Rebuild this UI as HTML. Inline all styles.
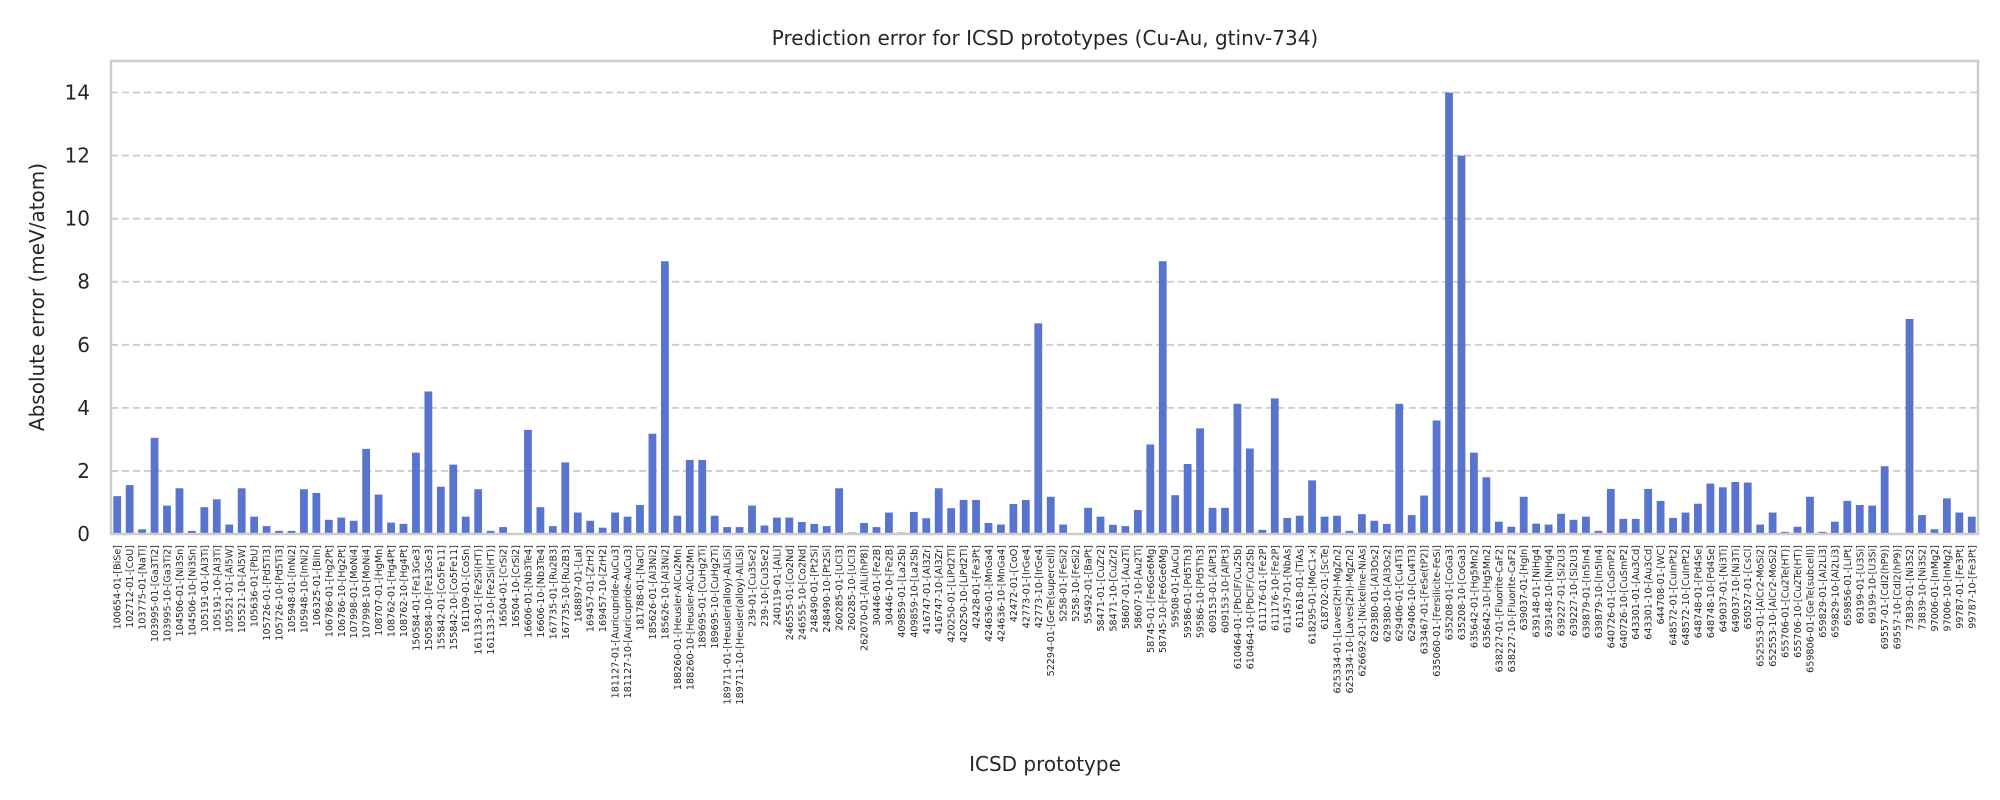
<!DOCTYPE html>
<html><head><meta charset="utf-8"><style>
html,body{margin:0;padding:0;background:#fff;}
svg{display:block;font-family:"DejaVu Sans","Liberation Sans",sans-serif;}
</style></head><body>
<svg id="chart" width="2000" height="800" viewBox="0 0 2000 800" xmlns="http://www.w3.org/2000/svg">
<rect x="0" y="0" width="2000" height="800" fill="#fff"/>
<text x="1045" y="45" text-anchor="middle" font-size="20" fill="#262626">Prediction error for ICSD prototypes (Cu-Au, gtinv-734)</text>
<g id="grid"></g>
<g id="bars"></g>
<rect x="111" y="61" width="1867" height="473" fill="none" stroke="#cccccc" stroke-width="2.5"/>
<g id="yticks"></g>
<g id="xticks"></g>
<text transform="translate(44,297) rotate(-90)" text-anchor="middle" font-size="20" fill="#262626">Absolute error (meV/atom)</text>
<text x="1045" y="771" text-anchor="middle" font-size="20" fill="#262626">ICSD prototype</text>
</svg>
<script>
const categories = ["100654-01-[BiSe]","102712-01-[CoU]","103775-01-[NaTl]","103995-01-[Ga3Ti2]","103995-10-[Ga3Ti2]","104506-01-[Ni3Sn]","104506-10-[Ni3Sn]","105191-01-[Al3Ti]","105191-10-[Al3Ti]","105521-01-[Al5W]","105521-10-[Al5W]","105636-01-[PbU]","105726-01-[Pd5Ti3]","105726-10-[Pd5Ti3]","105948-01-[InNi2]","105948-10-[InNi2]","106325-01-[BiIn]","106786-01-[Hg2Pt]","106786-10-[Hg2Pt]","107998-01-[MoNi4]","107998-10-[MoNi4]","108707-01-[HgMn]","108762-01-[Hg4Pt]","108762-10-[Hg4Pt]","150584-01-[Fe13Ge3]","150584-10-[Fe13Ge3]","155842-01-[Co5Fe11]","155842-10-[Co5Fe11]","161109-01-[CoSn]","161133-01-[Fe2Si(HT)]","161133-10-[Fe2Si(HT)]","16504-01-[CrSi2]","16504-10-[CrSi2]","16606-01-[Nb3Te4]","16606-10-[Nb3Te4]","167735-01-[Ru2B3]","167735-10-[Ru2B3]","168897-01-[LaI]","169457-01-[ZrH2]","169457-10-[ZrH2]","181127-01-[Auricupride-AuCu3]","181127-10-[Auricupride-AuCu3]","181788-01-[NaCl]","185626-01-[Al3Ni2]","185626-10-[Al3Ni2]","188260-01-[Heusler-AlCu2Mn]","188260-10-[Heusler-AlCu2Mn]","189695-01-[CuHg2Ti]","189695-10-[CuHg2Ti]","189711-01-[Heusler(alloy)-AlLiSi]","189711-10-[Heusler(alloy)-AlLiSi]","239-01-[Cu3Se2]","239-10-[Cu3Se2]","240119-01-[AlLi]","246555-01-[Co2Nd]","246555-10-[Co2Nd]","248490-01-[Pt2Si]","248490-10-[Pt2Si]","260285-01-[UCl3]","260285-10-[UCl3]","262070-01-[AlLi(hP8)]","30446-01-[Fe2B]","30446-10-[Fe2B]","409859-01-[La2Sb]","409859-10-[La2Sb]","416747-01-[Al3Zr]","416747-10-[Al3Zr]","420250-01-[LiPd2Tl]","420250-10-[LiPd2Tl]","42428-01-[Fe3Pt]","424636-01-[MnGa4]","424636-10-[MnGa4]","42472-01-[CoO]","42773-01-[IrGe4]","42773-10-[IrGe4]","52294-01-[GeTe(supercell)]","5258-01-[FeSi2]","5258-10-[FeSi2]","55492-01-[BaPt]","58471-01-[CuZr2]","58471-10-[CuZr2]","58607-01-[Au2Ti]","58607-10-[Au2Ti]","58745-01-[Fe6Ge6Mg]","58745-10-[Fe6Ge6Mg]","59508-01-[AuCu]","59586-01-[Pd5Th3]","59586-10-[Pd5Th3]","609153-01-[AlPt3]","609153-10-[AlPt3]","610464-01-[PbClF/Cu2Sb]","610464-10-[PbClF/Cu2Sb]","611176-01-[Fe2P]","611176-10-[Fe2P]","611457-01-[NbAs]","611618-01-[TiAs]","618295-01-[MoC1-x]","618702-01-[ScTe]","625334-01-[Laves(2H)-MgZn2]","625334-10-[Laves(2H)-MgZn2]","626692-01-[Nickeline-NiAs]","629380-01-[Al3Os2]","629380-10-[Al3Os2]","629406-01-[Cu4Ti3]","629406-10-[Cu4Ti3]","633467-01-[FeSe(tP2)]","635060-01-[Fersilicite-FeSi]","635208-01-[CoGa3]","635208-10-[CoGa3]","635642-01-[Hg5Mn2]","635642-10-[Hg5Mn2]","638227-01-[Fluorite-CaF2]","638227-10-[Fluorite-CaF2]","639037-01-[HgIn]","639148-01-[NiHg4]","639148-10-[NiHg4]","639227-01-[Si2U3]","639227-10-[Si2U3]","639879-01-[In5In4]","639879-10-[In5In4]","640726-01-[CuSmP2]","640726-10-[CuSmP2]","643301-01-[Au3Cd]","643301-10-[Au3Cd]","644708-01-[WC]","648572-01-[CuInPt2]","648572-10-[CuInPt2]","648748-01-[Pd4Se]","648748-10-[Pd4Se]","649037-01-[Ni3Ti]","649037-10-[Ni3Ti]","650527-01-[CsCl]","652553-01-[AlCr2-MoSi2]","652553-10-[AlCr2-MoSi2]","655706-01-[Cu2Te(HT)]","655706-10-[Cu2Te(HT)]","659806-01-[GeTe(subcell)]","659829-01-[Al2Li3]","659829-10-[Al2Li3]","659856-01-[LiPt]","69199-01-[U3Si]","69199-10-[U3Si]","69557-01-[CdI2(hP9)]","69557-10-[CdI2(hP9)]","73839-01-[Ni3S2]","73839-10-[Ni3S2]","97006-01-[InMg2]","97006-10-[InMg2]","99787-01-[Fe3Pt]","99787-10-[Fe3Pt]"];
const errors = [1.2,1.55,0.15,3.05,0.9,1.45,0.1,0.85,1.1,0.3,1.45,0.55,0.25,0.1,0.1,1.42,1.3,0.45,0.52,0.42,2.7,1.25,0.36,0.32,2.58,4.52,1.5,2.2,0.55,1.42,0.1,0.22,0.0,3.3,0.85,0.25,2.27,0.68,0.42,0.2,0.68,0.55,0.92,3.18,8.65,0.58,2.35,2.35,0.58,0.22,0.22,0.9,0.27,0.52,0.52,0.38,0.32,0.25,1.45,0.05,0.35,0.22,0.68,0.05,0.7,0.5,1.45,0.82,1.08,1.08,0.35,0.3,0.95,1.08,6.68,1.18,0.3,0.0,0.83,0.55,0.29,0.25,0.76,2.84,8.65,1.23,2.22,3.35,0.83,0.83,4.13,2.71,0.13,4.3,0.51,0.58,1.7,0.55,0.58,0.1,0.63,0.42,0.32,4.13,0.6,1.22,3.6,14.0,12.0,2.58,1.8,0.39,0.23,1.18,0.33,0.3,0.64,0.45,0.55,0.1,1.43,0.48,0.48,1.43,1.05,0.51,0.68,0.96,1.6,1.48,1.65,1.63,0.3,0.68,0.07,0.23,1.18,0.07,0.39,1.05,0.92,0.9,2.15,0.0,6.82,0.6,0.15,1.13,0.68,0.55];
const yTicks = [0,2,4,6,8,10,12,14];
const yMax = 15;

const NS = "http://www.w3.org/2000/svg";
const X0 = 111, X1 = 1978, Y0 = 534, Y1 = 61;
const step = (X1 - X0) / categories.length;
function xScale(i){ return X0 + step * (i + 0.5); }
function yScale(v){ return Y0 - (v / yMax) * (Y0 - Y1); }
function mk(tag, attrs){ const e = document.createElementNS(NS, tag); for (const k in attrs) e.setAttribute(k, attrs[k]); return e; }

const grid = document.getElementById('grid');
const yt = document.getElementById('yticks');
yTicks.forEach(t => {
  const y = yScale(t);
  const ln = mk('line', {x1: X0, x2: X1, y1: y, y2: y, stroke: '#cccccc', 'stroke-width': 1.8, 'stroke-dasharray': '7,4'});
  
  
  grid.appendChild(ln);
  const tx = mk('text', {x: 90, y: y + 7, 'text-anchor': 'end', 'font-size': 20, fill: '#262626'});
  tx.textContent = t;
  
  
  yt.appendChild(tx);
});

const bars = document.getElementById('bars');
const xt = document.getElementById('xticks');
const bw = 7.8;
categories.forEach((c, i) => {
  const v = errors[i];
  const cx = xScale(i);
  const r = mk('rect', {x: cx - bw/2, y: yScale(v), width: bw, height: Math.max(0, Y0 - yScale(v)), fill: '#5874cf'});
  
  
  bars.appendChild(r);
  const tx = mk('text', {transform: 'translate(' + (cx + 3.5) + ',545) rotate(-90)', 'text-anchor': 'end', 'font-size': 9.6, fill: '#262626'});
  tx.textContent = c;
  
  
  xt.appendChild(tx);
});
</script>
</body></html>
